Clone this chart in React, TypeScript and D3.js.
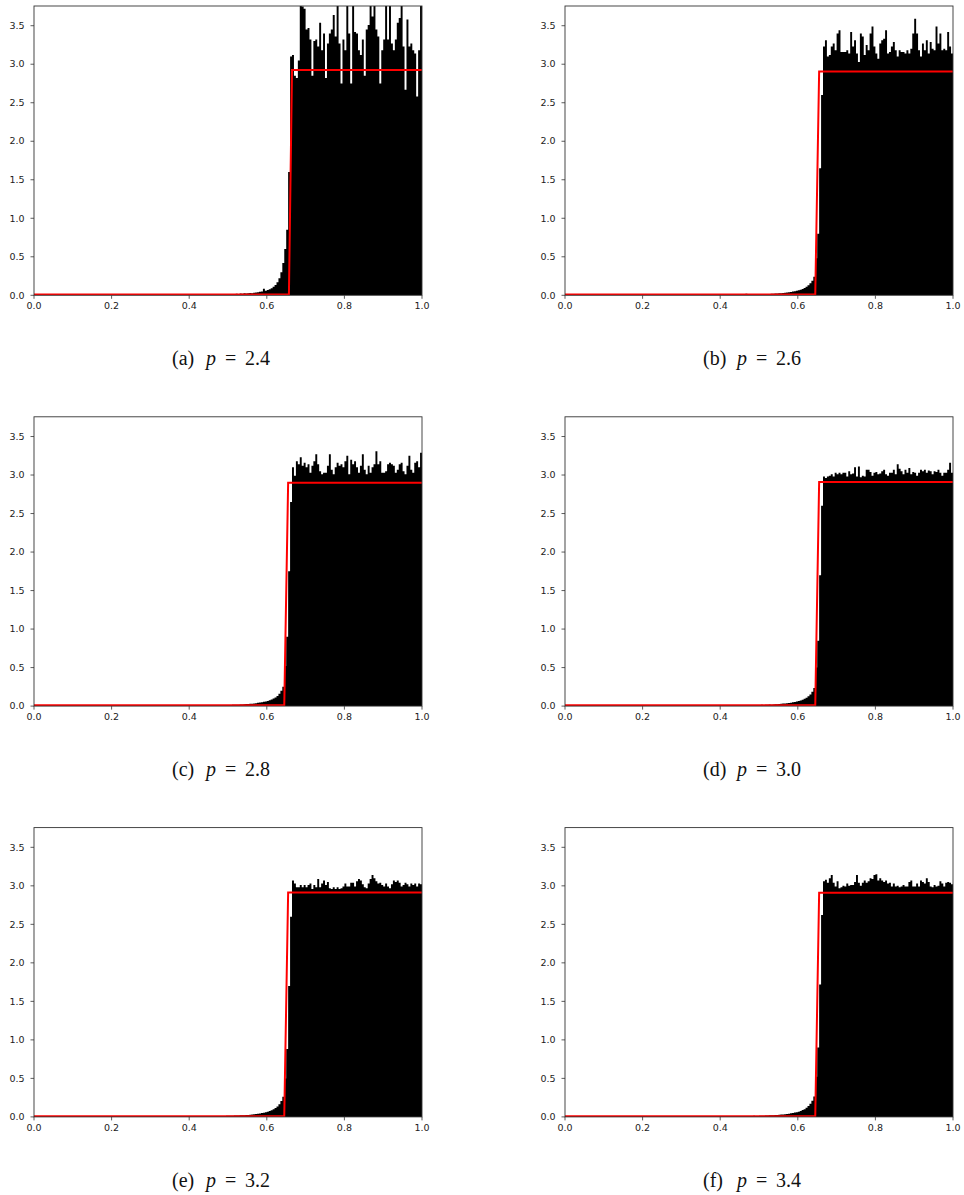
import React from "react";
import * as d3 from "d3";

// Histogram bins: width 0.005, tail starts at 0.35, bulk starts at 0.665 and runs to 1.0
const BIN_WIDTH = 0.005;
const TAIL_START = 0.35;
const Y_MAX = 3.756;

const panelLetters = ["a", "b", "c", "d", "e", "f"];
const pLabels = ["2.4", "2.6", "2.8", "3.0", "3.2", "3.4"];
const xTicks = [0, 0.2, 0.4, 0.6, 0.8, 1.0];
const yTicks = [0, 0.5, 1.0, 1.5, 2.0, 2.5, 3.0, 3.5];

// Reference density (red): flat floor, jump between jumpStart and jumpEnd, then flat level
const floorLevel = 0.01;
const jumpStart = [0.657, 0.645, 0.645, 0.645, 0.645, 0.645];
const jumpEnd = [0.665, 0.655, 0.655, 0.655, 0.655, 0.655];
const densityLevel = [2.925, 2.904, 2.9, 2.91, 2.915, 2.91];

// Tail bins, 0.350 .. 0.660 (63 bins)
const tailA = [
  0.004, 0.003, 0.005, 0.012, 0.004, 0.006, 0.003, 0.005, 0.004, 0.006,
  0.005, 0.008, 0.004, 0.007, 0.006, 0.009, 0.005, 0.007, 0.008, 0.006,
  0.009, 0.007, 0.011, 0.008, 0.012, 0.01, 0.013, 0.009, 0.014, 0.012,
  0.015, 0.013, 0.018, 0.016, 0.02, 0.017, 0.022, 0.021, 0.025, 0.023,
  0.028, 0.03, 0.027, 0.034, 0.036, 0.04, 0.045, 0.05, 0.085, 0.06,
  0.068, 0.08, 0.092, 0.11, 0.135, 0.17, 0.22, 0.3, 0.42, 0.6, 0.85, 1.6, 3.1,
];
const tailB = [
  0.003, 0.004, 0.003, 0.005, 0.004, 0.003, 0.006, 0.004, 0.005, 0.004,
  0.006, 0.005, 0.004, 0.007, 0.005, 0.008, 0.006, 0.007, 0.012, 0.006,
  0.008, 0.007, 0.01, 0.02, 0.009, 0.011, 0.01, 0.012, 0.011, 0.013,
  0.014, 0.013, 0.016, 0.015, 0.018, 0.017, 0.02, 0.019, 0.022, 0.024,
  0.026, 0.028, 0.03, 0.033, 0.036, 0.04, 0.044, 0.048, 0.053, 0.058,
  0.065, 0.073, 0.082, 0.095, 0.11, 0.13, 0.155, 0.19, 0.24, 0.48, 0.8, 1.65, 2.6,
];
const tailC = [
  0.003, 0.005, 0.004, 0.003, 0.006, 0.004, 0.005, 0.003, 0.004, 0.006,
  0.005, 0.006, 0.008, 0.005, 0.007, 0.006, 0.009, 0.007, 0.006, 0.008,
  0.009, 0.008, 0.01, 0.009, 0.012, 0.01, 0.011, 0.013, 0.012, 0.014,
  0.015, 0.014, 0.017, 0.016, 0.019, 0.018, 0.021, 0.02, 0.024, 0.026,
  0.027, 0.03, 0.032, 0.035, 0.038, 0.042, 0.046, 0.05, 0.055, 0.06,
  0.067, 0.075, 0.085, 0.098, 0.112, 0.13, 0.16, 0.2, 0.25, 0.52, 0.9, 1.75, 2.65,
];
const tailD = [
  0.004, 0.003, 0.005, 0.004, 0.003, 0.005, 0.004, 0.006, 0.003, 0.005,
  0.006, 0.005, 0.007, 0.006, 0.008, 0.005, 0.007, 0.009, 0.006, 0.008,
  0.008, 0.01, 0.009, 0.011, 0.01, 0.012, 0.011, 0.013, 0.014, 0.012,
  0.015, 0.016, 0.015, 0.018, 0.017, 0.02, 0.019, 0.022, 0.023, 0.025,
  0.027, 0.029, 0.033, 0.034, 0.038, 0.041, 0.045, 0.049, 0.054, 0.059,
  0.066, 0.074, 0.083, 0.096, 0.11, 0.128, 0.15, 0.185, 0.235, 0.5, 0.85, 1.7, 2.6,
];
const tailE = [
  0.003, 0.004, 0.004, 0.006, 0.003, 0.004, 0.005, 0.004, 0.006, 0.004,
  0.005, 0.007, 0.006, 0.005, 0.008, 0.006, 0.007, 0.006, 0.009, 0.007,
  0.009, 0.01, 0.008, 0.011, 0.01, 0.013, 0.012, 0.011, 0.013, 0.015,
  0.014, 0.016, 0.015, 0.017, 0.019, 0.018, 0.02, 0.022, 0.021, 0.025,
  0.026, 0.029, 0.031, 0.034, 0.037, 0.04, 0.044, 0.05, 0.054, 0.06,
  0.066, 0.076, 0.086, 0.1, 0.115, 0.135, 0.165, 0.205, 0.26, 0.5, 0.88, 1.7, 2.6,
];
const tailF = [
  0.004, 0.003, 0.004, 0.005, 0.004, 0.006, 0.003, 0.005, 0.004, 0.005,
  0.006, 0.005, 0.006, 0.008, 0.006, 0.007, 0.008, 0.006, 0.007, 0.009,
  0.008, 0.009, 0.011, 0.01, 0.012, 0.011, 0.012, 0.014, 0.013, 0.012,
  0.015, 0.016, 0.016, 0.018, 0.017, 0.021, 0.02, 0.022, 0.024, 0.025,
  0.028, 0.03, 0.032, 0.034, 0.039, 0.042, 0.046, 0.051, 0.056, 0.061,
  0.068, 0.077, 0.088, 0.1, 0.118, 0.14, 0.17, 0.21, 0.265, 0.52, 0.9, 1.72, 2.62,
];

// Bulk bins, 0.665 .. 0.995 (67 bins)
const bodyA = [
  3.12, 2.85, 2.82, 3.05, 3.9, 3.75, 3.72, 3.45, 3.47, 3.32,
  2.85, 3.3, 3.32, 3.23, 3.54, 3.18, 3.4, 2.82, 3.27, 3.4,
  3.45, 3.64, 3.36, 3.9, 3.27, 2.75, 3.32, 3.18, 3.9, 3.4,
  2.75, 3.8, 3.42, 3.4, 3.18, 3.12, 3.32, 2.85, 3.45, 3.51,
  3.9, 3.62, 3.9, 3.45, 3.36, 2.75, 3.18, 3.32, 3.9, 3.32,
  3.9, 3.27, 3.18, 3.32, 3.54, 3.6, 3.9, 3.23, 2.67, 3.58,
  3.23, 3.27, 3.18, 3.14, 2.58, 3.18, 3.9,
];
const bodyB = [
  3.23, 3.31, 3.1, 3.12, 3.23, 3.27, 3.18, 3.4, 3.44, 3.16,
  3.16, 3.16, 3.18, 3.14, 3.42, 3.23, 3.31, 3.14, 3.03, 3.4,
  3.36, 3.12, 3.25, 3.18, 3.4, 3.49, 3.23, 3.14, 3.07, 3.27,
  3.31, 3.33, 3.44, 3.14, 3.16, 3.23, 3.29, 3.18, 3.1, 3.18,
  3.16, 3.16, 3.14, 3.18, 3.14, 3.2, 3.4, 3.59, 3.4, 3.18,
  3.1, 3.27, 3.18, 3.31, 3.14, 3.29, 3.2, 3.18, 3.49, 3.27,
  3.4, 3.18, 3.2, 3.18, 3.42, 3.23, 3.14,
];
const bodyC = [
  3.1, 2.99, 3.18, 3.14, 3.23, 3.12, 3.16, 3.1, 3.14, 3.03,
  3.12, 3.18, 3.27, 3.14, 3.05, 3.01, 3.03, 3.03, 3.12, 3.27,
  3.07, 3.01, 3.1, 3.16, 3.12, 3.14, 3.1, 3.18, 3.25, 3.01,
  3.2, 3.14, 3.18, 3.1, 3.03, 3.12, 3.27, 3.07, 3.01, 3.12,
  3.03, 3.1, 3.14, 3.31, 3.14, 3.18, 3.03, 3.03, 3.05, 3.14,
  3.16, 3.14, 3.12, 3.03, 3.07, 3.14, 3.16, 3.05, 3.01, 3.12,
  3.25, 3.07, 3.03, 3.16, 3.18, 3.1, 3.29,
];
const bodyD = [
  2.98, 2.96, 2.98, 2.99, 3.01, 2.98, 3.03, 3.01, 3.03, 3.01,
  3.03, 3.03, 2.98, 3.05, 3.01, 3.02, 3.1, 2.98, 3.11, 2.97,
  2.99, 2.98, 3.07, 3.07, 3.04, 2.99, 3.03, 3.04, 3.01, 3.02,
  3.05, 3.07, 3.01, 2.99, 3.03, 3.03, 3.07, 3.01, 3.14, 3.08,
  3.05, 3.01, 3.07, 3.03, 3.09, 3.01, 3.04, 3.03, 2.99, 3.03,
  3.07, 3.05, 3.07, 3.03, 3.06, 3.05, 3.01, 3.05, 3.04, 3.07,
  3.03, 2.99, 3.03, 3.03, 3.07, 3.16, 3.03,
];
const bodyE = [
  3.07, 3.03, 2.98, 2.98, 3.01, 2.98, 3.01, 2.98, 3.01, 3.03,
  2.96, 3.01, 2.98, 3.09, 2.98, 3.03, 3.07, 3.01, 3.05, 2.97,
  2.96, 2.98, 2.96, 2.98, 2.96, 2.97, 2.99, 3.03, 2.99, 2.99,
  3.04, 3.04, 2.99, 3.06, 3.09, 3.07, 3.02, 2.98, 2.97, 3.03,
  3.09, 3.14, 3.1, 3.06, 3.03, 3.04, 3.01, 2.99, 3.03, 2.99,
  2.97, 3.02, 3.07, 3.05, 3.07, 3.04, 2.99, 3.01, 3.04, 3.02,
  2.99, 3.03, 3.01, 3.03, 2.99, 3.03, 3.02,
];
const bodyF = [
  3.06, 3.08, 3.04, 3.1, 3.14, 3.04, 2.99, 3.06, 2.97, 2.98,
  3.0, 2.99, 3.03, 3.0, 3.01, 3.01, 3.05, 3.14, 3.04, 3.0,
  3.04, 3.07, 3.04, 3.06, 3.1, 3.09, 3.14, 3.15, 3.07, 3.1,
  3.07, 3.05, 3.07, 3.03, 3.04, 2.99, 3.03, 2.99, 3.0, 2.98,
  2.99, 3.01, 2.99, 2.99, 3.05, 3.07, 2.99, 2.99, 3.03, 2.99,
  3.07, 3.05, 3.03, 3.1, 3.05, 2.99, 2.98, 3.01, 2.99, 3.0,
  3.06, 3.03, 2.99, 3.04, 3.05, 3.04, 3.02,
];

const tails = [tailA, tailB, tailC, tailD, tailE, tailF];
const bodies = [bodyA, bodyB, bodyC, bodyD, bodyE, bodyF];

const PLOT_W = 388;
const PLOT_H = 289.3;
const COL_LEFT = [34, 565];
const ROW_TOP = [6, 416.8, 827.6];
const CAPTION_OFFSET = 359; // caption baseline below plot top

const tickFont = "'DejaVu Sans', sans-serif";
const captionFont = "'Liberation Serif', 'Times New Roman', serif";
const axisColor = "#333";
const labelColor = "#222";

type Pt = [number, number];

function Panel({ idx }: { idx: number }) {
  const col = idx % 2;
  const row = Math.floor(idx / 2);
  const left = COL_LEFT[col];
  const top = ROW_TOP[row];
  const x = d3.scaleLinear().domain([0, 1]).range([left, left + PLOT_W]);
  const y = d3.scaleLinear().domain([0, Y_MAX]).range([top + PLOT_H, top]);

  const values = [...tails[idx], ...bodies[idx]];
  const pts: Pt[] = values.map((v, i) => [TAIL_START + i * BIN_WIDTH, v]);
  pts.push([TAIL_START + values.length * BIN_WIDTH, values[values.length - 1]]);

  const area = d3
    .area<Pt>()
    .x((d) => x(d[0]))
    .y0(y(0))
    .y1((d) => y(d[1]))
    .curve(d3.curveStepAfter);

  const redPts: Pt[] = [
    [0, floorLevel],
    [jumpStart[idx], floorLevel],
    [jumpEnd[idx], densityLevel[idx]],
    [1, densityLevel[idx]],
  ];
  const line = d3
    .line<Pt>()
    .x((d) => x(d[0]))
    .y((d) => y(d[1]));

  const clipId = `clip-${idx}`;
  const capCenter = left + 188;
  const capX = capCenter - 50;
  const capY = top + CAPTION_OFFSET;

  return (
    <g>
      <defs>
        <clipPath id={clipId}>
          <rect x={left} y={top} width={PLOT_W} height={PLOT_H} />
        </clipPath>
      </defs>
      <g clipPath={`url(#${clipId})`}>
        <path d={area(pts) || ""} fill="#000" />
        <path
          d={line(redPts) || ""}
          fill="none"
          stroke="#ff0000"
          strokeWidth={2}
          strokeLinejoin="miter"
        />
      </g>
      <rect
        x={left}
        y={top}
        width={PLOT_W}
        height={PLOT_H}
        fill="none"
        stroke={axisColor}
        strokeWidth={0.9}
      />
      {xTicks.map((t) => (
        <g key={`x${t}`}>
          <line
            x1={x(t)}
            x2={x(t)}
            y1={top + PLOT_H}
            y2={top + PLOT_H + 3.5}
            stroke={axisColor}
            strokeWidth={0.8}
          />
          <text
            x={x(t)}
            y={top + PLOT_H + 13.8}
            textAnchor="middle"
            fontFamily={tickFont}
            fontSize={9.5}
            fill={labelColor}
          >
            {t.toFixed(1)}
          </text>
        </g>
      ))}
      {yTicks.map((t) => (
        <g key={`y${t}`}>
          <line
            x1={left - 3.5}
            x2={left}
            y1={y(t)}
            y2={y(t)}
            stroke={axisColor}
            strokeWidth={0.8}
          />
          <text
            x={left - 9.5}
            y={y(t)}
            dy="0.34em"
            textAnchor="end"
            fontFamily={tickFont}
            fontSize={9.5}
            fill={labelColor}
          >
            {t.toFixed(1)}
          </text>
        </g>
      ))}
      <text fontFamily={captionFont} fontSize={20} fill="#111" y={capY}>
        <tspan x={capX}>({panelLetters[idx]})</tspan>
        <tspan x={capX + 34} fontStyle="italic">
          p
        </tspan>
        <tspan x={capX + 53}>=</tspan>
        <tspan x={capX + 73}>{pLabels[idx]}</tspan>
      </text>
    </g>
  );
}

export default function App() {
  return (
    <svg
      width={964}
      height={1195}
      style={{ position: "absolute", left: 0, top: 0, background: "#fff" }}
    >
      <rect x={0} y={0} width={964} height={1195} fill="#fff" />
      {panelLetters.map((_, i) => (
        <Panel key={i} idx={i} />
      ))}
    </svg>
  );
}
